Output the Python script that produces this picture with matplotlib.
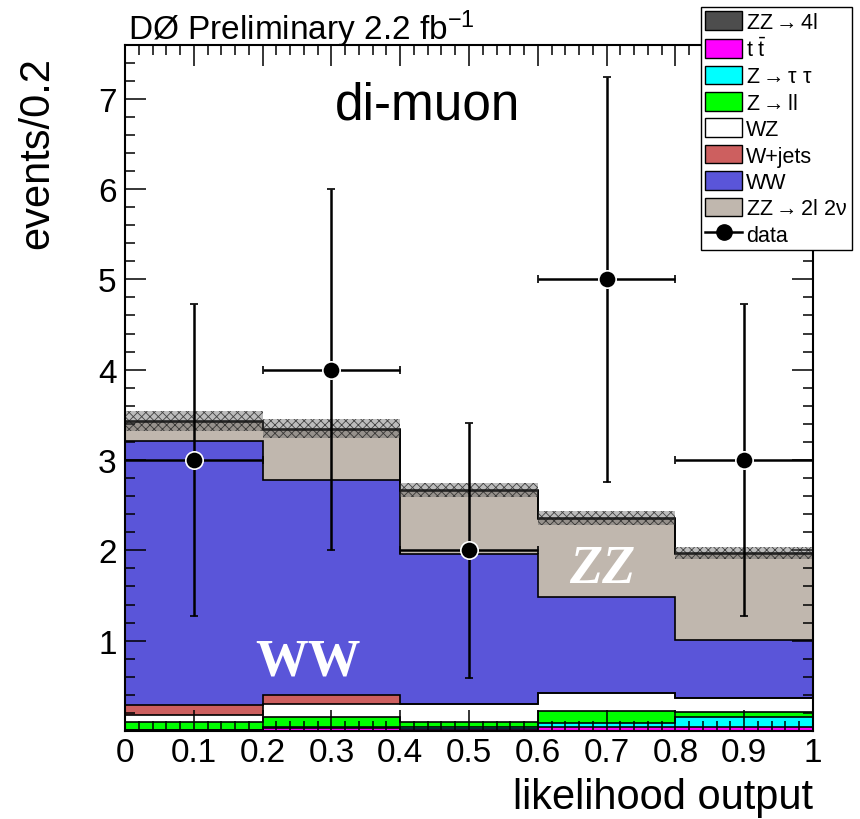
import numpy as np
import matplotlib
matplotlib.use("Agg")
import matplotlib.pyplot as plt
from matplotlib.patches import Patch
from matplotlib.lines import Line2D
from matplotlib.ticker import MultipleLocator

plt.rcParams['font.family'] = ['Liberation Sans', 'DejaVu Sans']
plt.rcParams['mathtext.fontset'] = 'custom'
plt.rcParams['mathtext.rm'] = 'Liberation Sans'
plt.rcParams['mathtext.it'] = 'Liberation Sans:italic'
plt.rcParams['hatch.linewidth'] = 0.6

# --- data ---
bin_edges = [0.0, 0.2, 0.4, 0.6, 0.8, 1.0]
bin_centers = [0.1, 0.3, 0.5, 0.7, 0.9]

# stack components, bottom to top
ttbar   = [0.010, 0.030, 0.025, 0.040, 0.040]
ztautau = [0.005, 0.015, 0.015, 0.050, 0.110]
zll     = [0.090, 0.105, 0.060, 0.130, 0.060]
wz      = [0.075, 0.150, 0.200, 0.200, 0.160]
wjets   = [0.105, 0.100, 0.000, 0.000, 0.000]
ww      = [2.925, 2.380, 1.660, 1.060, 0.640]
zz2l2nu = [0.210, 0.550, 0.700, 0.870, 0.950]
zz4l    = [0.010, 0.015, 0.010, 0.010, 0.010]

# total background uncertainty (half width of hatched band)
bkg_err = [0.110, 0.105, 0.080, 0.080, 0.065]

data_y   = [3, 4, 2, 5, 3]
data_err = [1.73, 2.00, 1.41, 2.24, 1.73]

x_ticks = [0, 0.1, 0.2, 0.3, 0.4, 0.5, 0.6, 0.7, 0.8, 0.9, 1]
x_tick_labels = ["0", "0.1", "0.2", "0.3", "0.4", "0.5", "0.6", "0.7", "0.8", "0.9", "1"]
y_ticks = [1, 2, 3, 4, 5, 6, 7]
y_tick_labels = ["1", "2", "3", "4", "5", "6", "7"]

components = [
    ("ttbar", ttbar, "#ff00ff"),
    ("ztautau", ztautau, "#00ffff"),
    ("zll", zll, "#00ff00"),
    ("wz", wz, "#ffffff"),
    ("wjets", wjets, "#cd5f5f"),
    ("ww", ww, "#5a55d9"),
    ("zz2l2nu", zz2l2nu, "#c0b7ae"),
    ("zz4l", zz4l, "#4d4d4d"),
]

fig = plt.figure(figsize=(8.6, 8.2), dpi=100)
ax = fig.add_axes([125/860, 1 - 732/820, 688/860, 686.5/820])

# ROOT-style stack: each histogram filled from 0 to its cumulative height,
# biggest drawn first so the smaller ones sit on top
cum = np.cumsum([np.array(c[1]) for c in components], axis=0)
for i in range(len(components) - 1, -1, -1):
    name, vals, col = components[i]
    ax.stairs(cum[i], bin_edges, baseline=0, fill=True, facecolor=col,
              edgecolor="none", zorder=1)
for i in range(len(components) - 1, -1, -1):
    ax.stairs(cum[i], bin_edges, baseline=None, color="black", lw=1.2, zorder=1.5)

# uncertainty band on the total
total = cum[-1]
err = np.array(bkg_err)
ax.stairs(total + err, bin_edges, baseline=total - err, fill=True,
          facecolor=(0.35, 0.35, 0.35, 0.4), edgecolor=(0.1, 0.1, 0.1, 0.75),
          hatch="xxxx", linewidth=0, zorder=2)

# data
ax.errorbar(bin_centers, data_y, yerr=data_err, xerr=0.1, fmt="o", color="black",
            ms=12.5, mec="white", mew=1.2, elinewidth=1.8, capsize=3, capthick=1.8,
            zorder=6)

ax.text(0.189, 0.62, "WW", color="white", fontsize=38, fontweight="bold",
        family="Liberation Serif", zorder=3)
ax.text(0.645, 1.65, "ZZ", color="white", fontsize=39, fontweight="bold",
        fontstyle="italic", family="Liberation Serif", zorder=3)
ax.text(0.305, 6.78, "di-muon", fontsize=37, zorder=3)

ax.set_xlim(0, 1)
ax.set_ylim(0, 7.6)
ax.set_xticks(x_ticks)
ax.set_xticklabels(x_tick_labels)
ax.set_yticks(y_ticks)
ax.set_yticklabels(y_tick_labels)
ax.xaxis.set_minor_locator(MultipleLocator(0.02))
ax.yaxis.set_minor_locator(MultipleLocator(0.2))
ax.tick_params(which="both", direction="in", top=True, right=True, width=1.1,
               labelsize=24)
ax.tick_params(which="major", length=15)
ax.tick_params(which="minor", length=7.5)
ax.tick_params(axis="x", pad=4)
ax.tick_params(axis="y", pad=6)
for s in ax.spines.values():
    s.set_linewidth(1.5)

fig.text(37/860, 1 - 57/820, "events/0.2", rotation=90, ha="center", va="top",
         fontsize=30)
fig.text(813/860, 1 - 778/820, "likelihood output", ha="right", va="top",
         fontsize=30)
fig.text(128/860, 1 - 40/820, r"DØ Preliminary 2.2 fb$^{-1}$", ha="left",
         va="baseline", fontsize=24)

handles = [
    Patch(facecolor="#4d4d4d", edgecolor="black", label=r"ZZ$\rightarrow$4l"),
    Patch(facecolor="#ff00ff", edgecolor="black", label=r"$\mathrm{t\ \bar{t}}$"),
    Patch(facecolor="#00ffff", edgecolor="black", label=r"Z$\rightarrow$τ τ"),
    Patch(facecolor="#00ff00", edgecolor="black", label=r"Z$\rightarrow$ll"),
    Patch(facecolor="#ffffff", edgecolor="black", label="WZ"),
    Patch(facecolor="#cd5f5f", edgecolor="black", label="W+jets"),
    Patch(facecolor="#5a55d9", edgecolor="black", label="WW"),
    Patch(facecolor="#c0b7ae", edgecolor="black", label=r"ZZ$\rightarrow$2l 2ν"),
    Line2D([0], [0], color="black", marker="o", ms=11, lw=1.8, label="data"),
]
leg = fig.legend(handles=handles, loc="upper right", bbox_to_anchor=(852/860, 1 - 8/820),
                 fontsize=15.5, frameon=True, fancybox=False, edgecolor="black",
                 framealpha=1, borderaxespad=0, borderpad=0.2, labelspacing=0.22,
                 handlelength=1.7, handleheight=0.95, handletextpad=0.2)
leg.get_frame().set_linewidth(1.0)
leg.set_zorder(10)

fig.savefig("out.png", dpi=100)
